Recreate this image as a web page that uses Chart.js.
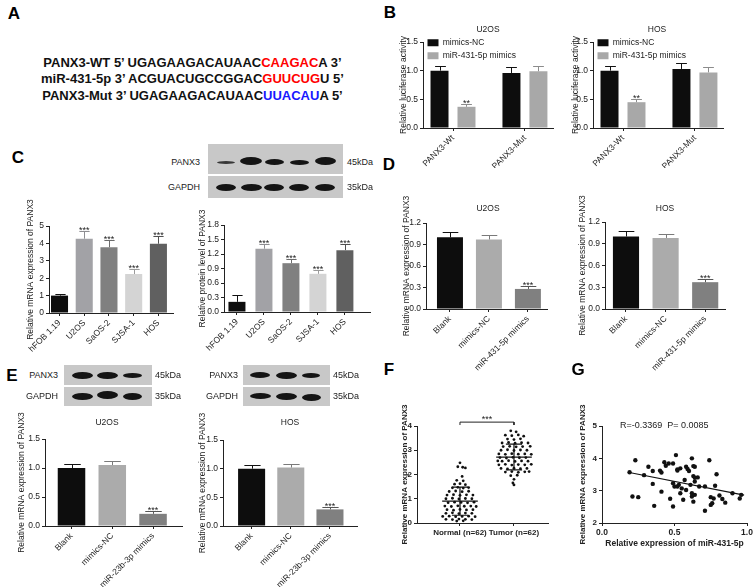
<!DOCTYPE html>
<html>
<head>
<meta charset="utf-8">
<title>PANX3 / miR-431-5p</title>
<script src="https://cdn.jsdelivr.net/npm/chart.js@4.4.1/dist/chart.umd.min.js"></script>
<style>
  body { margin: 0; background: #fff; }
  #page { position: relative; width: 753px; height: 587px; overflow: hidden; font-family: "Liberation Sans", Arial, sans-serif; color: #222; }
  #page canvas { position: absolute; }
  .txt { position: absolute; white-space: pre; line-height: 1; }
  .seq { position: absolute; left: 0; width: 385px; text-align: center; font-size: 13px; font-weight: bold; color: #111; white-space: pre; line-height: 1; }
  .red { color: #f00; }
  .blue { color: #1818ff; }
  .blot { position: absolute; background: #c8c8c8; overflow: hidden; }
  .band { position: absolute; background: #141414; border-radius: 50%; filter: blur(0.7px); }
</style>
</head>
<body>
<div id="page">
  <div class="seq" style="top:56px">PANX3-WT 5’ UGAGAAGACAUAAC<span class="red">CAAGAC</span>A 3’</div>
  <div class="seq" style="top:72px">miR-431-5p 3’ ACGUACUGCCGGAC<span class="red">GUUCUG</span>U 5’</div>
  <div class="seq" style="top:89px">PANX3-Mut 3’ UGAGAAGACAUAAC<span class="blue">UUACAU</span>A 5’</div>
</div>
<script>
// B: luciferase reporter
const lucCats = ['PANX3-Wt', 'PANX3-Mut'];
const lucTicks = [0, 0.5, 1.0, 1.5];
const u2osLucNC = [1.0, 0.96];
const u2osLucNCErr = [0.09, 0.10];
const u2osLucMim = [0.37, 0.99];
const u2osLucMimErr = [0.05, 0.09];
const hosLucNC = [1.0, 1.03];
const hosLucNCErr = [0.09, 0.10];
const hosLucMim = [0.45, 0.97];
const hosLucMimErr = [0.06, 0.10];
const lucStars = ['**', ''];

// C: cell lines
const cellLines = ['hFOB 1.19', 'U2OS', 'SaOS-2', 'SJSA-1', 'HOS'];
const cellMrna = [1.0, 4.27, 3.78, 2.24, 3.98];
const cellMrnaErr = [0.1, 0.42, 0.42, 0.28, 0.42];
const cellProt = [0.21, 1.31, 1.01, 0.79, 1.28];
const cellProtErr = [0.14, 0.09, 0.09, 0.07, 0.12];
const cellStars = ['', '***', '***', '***', '***'];
const mrnaTicks = [0, 1, 2, 3, 4, 5];
const protTicks = [0, 0.3, 0.6, 0.9, 1.2, 1.5, 1.8];

// D: miR-431-5p mimics
const dCats = ['Blank', 'mimics-NC', 'miR-431-5p mimics'];
const dU2os = [1.0, 0.97, 0.28];
const dU2osErr = [0.07, 0.065, 0.035];
const dHos = [1.0, 0.98, 0.37];
const dHosErr = [0.07, 0.06, 0.04];
const dTicks = [0, 0.3, 0.6, 0.9, 1.2];

// E: miR-23b-3p mimics
const eCats = ['Blank', 'mimics-NC', 'miR-23b-3p mimics'];
const eU2os = [1.0, 1.05, 0.21];
const eU2osErr = [0.07, 0.07, 0.05];
const eHos = [1.0, 1.02, 0.29];
const eHosErr = [0.07, 0.07, 0.04];
const eTicks = [0, 0.5, 1.0, 1.5];
const threeStars = ['', '', '***'];

// F: tissue samples (value, horizontal spread)
const fCats = ['Normal (n=62)', 'Tumor (n=62)'];
const fTicks = [0, 1, 2, 3, 4];
const normalY = [2.48, 2.32, 2.30, 2.27, 1.92, 1.76, 1.74, 1.60, 1.62, 1.58, 1.45, 1.47, 1.44, 1.46,
  1.30, 1.32, 1.29, 1.31, 1.15, 1.17, 1.14, 1.16, 1.15, 1.00, 1.02, 0.99, 1.01, 1.00,
  0.84, 0.86, 0.85, 0.83, 0.86, 0.70, 0.68, 0.71, 0.69, 0.70, 0.68, 0.55, 0.53, 0.56, 0.54, 0.55,
  0.40, 0.42, 0.39, 0.41, 0.40, 0.27, 0.28, 0.26, 0.27, 0.28, 0.26, 0.15, 0.14, 0.16, 0.15, 0.14, 0.08, 0.09];
const normalX = [0, -0.04, 0.05, 0.1, 0.04, -0.06, 0.06, -0.1, 0, 0.1, -0.14, -0.04, 0.06, 0.16,
  -0.2, -0.08, 0.04, 0.16, -0.24, -0.12, 0, 0.12, 0.24, -0.26, -0.14, -0.02, 0.1, 0.22,
  -0.22, -0.1, 0.02, 0.14, 0.26, -0.28, -0.16, -0.04, 0.08, 0.2, 0.3, -0.24, -0.12, 0, 0.12, 0.24,
  -0.26, -0.14, -0.02, 0.1, 0.22, -0.32, -0.2, -0.08, 0.04, 0.16, 0.28, -0.26, -0.14, -0.02, 0.1, 0.22, -0.06, 0.06];
const tumorY = [3.80, 3.76, 3.62, 3.60, 3.63, 3.58, 3.46, 3.44, 3.47, 3.30, 3.32, 3.29, 3.31, 3.30,
  3.15, 3.16, 3.14, 3.15, 3.16, 3.00, 3.02, 2.99, 3.01, 3.00, 2.85, 2.83, 2.86, 2.84, 2.85, 2.83,
  2.70, 2.68, 2.71, 2.69, 2.70, 2.55, 2.57, 2.54, 2.56, 2.55, 2.56, 2.40, 2.42, 2.39, 2.41, 2.40, 2.42,
  2.25, 2.23, 2.26, 2.24, 2.25, 2.10, 2.12, 2.09, 2.11, 2.12, 1.95, 1.97, 1.80, 1.65, 1.57];
const tumorX = [-0.06, 0.04, -0.16, -0.04, 0.08, 0.18, -0.12, 0, 0.12, -0.22, -0.1, 0.02, 0.14, 0.26,
  -0.2, -0.08, 0.04, 0.16, 0.3, -0.24, -0.12, 0, 0.12, 0.24, -0.28, -0.16, -0.04, 0.08, 0.2, 0.32,
  -0.26, -0.14, -0.02, 0.1, 0.22, -0.22, -0.1, 0.02, 0.14, 0.26, -0.3, -0.28, -0.16, -0.04, 0.08, 0.2, 0.32,
  -0.24, -0.12, 0, 0.12, 0.24, -0.16, -0.04, 0.08, 0.2, 0.28, -0.06, 0.06, 0, -0.02, 0];
const normalStats = [0.9, 0.58];   // mean, sd
const tumorStats = [2.72, 0.53];

// G: correlation
const gMir = [0.19, 0.23, 0.21, 0.25, 0.29, 0.32, 0.35, 0.35, 0.36, 0.40, 0.41, 0.41, 0.43, 0.44, 0.46, 0.49,
  0.47, 0.49, 0.49, 0.50, 0.51, 0.52, 0.52, 0.52, 0.53, 0.54, 0.54, 0.55, 0.56, 0.57, 0.58, 0.58,
  0.59, 0.60, 0.61, 0.62, 0.62, 0.62, 0.63, 0.63, 0.63, 0.64, 0.64, 0.64, 0.64, 0.66, 0.67, 0.71,
  0.71, 0.74, 0.75, 0.75, 0.76, 0.77, 0.78, 0.79, 0.81, 0.83, 0.85, 0.90, 0.95, 0.96];
const gPanx = [3.57, 3.94, 2.82, 2.80, 3.48, 3.74, 3.61, 3.21, 2.53, 3.62, 3.56, 2.97, 3.88, 3.77, 3.84, 3.84,
  2.75, 3.23, 2.51, 3.13, 4.10, 3.62, 3.66, 3.13, 3.18, 3.69, 2.92, 3.07, 2.72, 3.33, 3.02, 3.74,
  3.67, 3.61, 3.18, 4.00, 2.92, 2.82, 3.45, 3.76, 2.66, 2.87, 3.28, 3.74, 3.40, 3.41, 3.13, 2.38,
  3.13, 3.94, 2.80, 2.56, 2.61, 2.76, 3.15, 3.51, 2.85, 2.74, 2.63, 2.92, 2.76, 2.87];
const gFitX = [0.18, 0.98];
const gFitY = [3.57, 2.86];
const gXTicks = [0, 0.5, 1.0];
const gYTicks = [2, 3, 4, 5];

const page = document.getElementById('page');
const ink = '#222';
Chart.defaults.font.family = '"Liberation Sans", Arial, sans-serif';
Chart.defaults.font.size = 8.5;
Chart.defaults.color = ink;

function txt(s, x, y, align, style) {
  const d = document.createElement('div');
  d.className = 'txt';
  d.textContent = s;
  const tx = align === 'l' ? '0' : align === 'r' ? '-100%' : '-50%';
  d.style.cssText = 'left:' + x + 'px;top:' + y + 'px;transform:translate(' + tx + ',-50%);' + (style || '');
  page.appendChild(d);
}

function blot(x, y, w, h, bands) {
  const d = document.createElement('div');
  d.className = 'blot';
  d.style.cssText = 'left:' + x + 'px;top:' + y + 'px;width:' + w + 'px;height:' + h + 'px';
  bands.forEach(([cx, cy, bw, bh, op]) => {
    const b = document.createElement('div');
    b.className = 'band';
    b.style.cssText = 'left:' + (cx - x - bw / 2) + 'px;top:' + (cy - y - bh / 2) + 'px;width:' + bw + 'px;height:' + bh + 'px;opacity:' + (op || 1);
    d.appendChild(b);
  });
  page.appendChild(d);
}

function makeCanvas(box, pad) {
  const [l, t, r, b] = box;
  const cv = document.createElement('canvas');
  const w = r - l + pad.W + pad.R, h = b - t + pad.T + pad.H;
  cv.width = w;
  cv.height = h;
  cv.style.left = (l - pad.W) + 'px';
  cv.style.top = (t - pad.T) + 'px';
  cv.style.width = w + 'px';
  cv.style.height = h + 'px';
  page.appendChild(cv);
  return cv;
}

function yAxis(ticks, dec, title, W, font, titleFont) {
  return {
    min: ticks[0], max: ticks[ticks.length - 1],
    afterBuildTicks: s => { s.ticks = ticks.map(v => ({ value: v })); },
    afterFit: s => { s.width = W; s.paddingTop = 0; s.paddingBottom = 0; },
    ticks: { callback: v => v.toFixed(dec), padding: 2, font: font, color: ink },
    grid: { drawOnChartArea: false, tickLength: 3, color: ink },
    border: { color: ink },
    title: { display: true, text: title, padding: 0, font: titleFont, color: ink }
  };
}

function xAxis(min, max, values, fmt, H, rot, font, title) {
  return {
    type: 'linear', min: min, max: max, offset: false,
    afterBuildTicks: s => { s.ticks = values.map(v => ({ value: v })); },
    afterFit: s => { s.height = H; s.paddingLeft = 0; s.paddingRight = 0; },
    ticks: { callback: fmt, autoSkip: false, minRotation: rot, maxRotation: rot, padding: 2, font: font, color: ink },
    grid: { offset: false, drawOnChartArea: false, tickLength: 3, color: ink },
    border: { color: ink },
    title: title ? { display: true, text: title, padding: 0, font: { size: 8.5, weight: 'bold' }, color: ink } : { display: false }
  };
}

// error bars (upper whisker only) + significance stars
const errPlugin = {
  id: 'errs',
  afterDatasetsDraw(chart) {
    const ctx = chart.ctx, ys = chart.scales.y;
    chart.data.datasets.forEach((ds, di) => {
      if (!ds.errors) return;
      chart.getDatasetMeta(di).data.forEach((bar, i) => {
        const top = Math.round(ys.getPixelForValue(ds.data[i].y + ds.errors[i])) + 0.5;
        const x = Math.round(bar.x) + 0.5;
        const cap = bar.width * 0.3;
        ctx.save();
        ctx.strokeStyle = Array.isArray(ds.errColor) ? ds.errColor[i] : ds.errColor;
        ctx.lineWidth = 1;
        ctx.beginPath();
        ctx.moveTo(x, bar.y);
        ctx.lineTo(x, top);
        ctx.moveTo(x - cap, top);
        ctx.lineTo(x + cap, top);
        ctx.stroke();
        if (ds.stars && ds.stars[i]) {
          ctx.fillStyle = ink;
          ctx.font = '9px "Liberation Sans", Arial, sans-serif';
          ctx.textAlign = 'center';
          ctx.textBaseline = 'alphabetic';
          ctx.fillText(ds.stars[i], bar.x, top + 1);
        }
        ctx.restore();
      });
    });
  }
};

const legendShift = {
  id: 'legendShift',
  afterLayout(c) {
    if (c.options.plugins.legend.display) c.legend.top += 6;
  }
};

function barChart(box, pad, cats, sets, o) {
  const cv = makeCanvas(box, pad);
  return new Chart(cv, {
    type: 'bar',
    data: {
      datasets: sets.map(s => ({
        label: s.label,
        data: s.values.map((v, i) => ({ x: i + 1, y: v })),
        backgroundColor: s.color,
        borderWidth: 0,
        categoryPercentage: o.cp,
        barPercentage: o.bp,
        errors: s.errors,
        errColor: s.errColor,
        stars: s.stars
      }))
    },
    options: {
      responsive: false, animation: false, devicePixelRatio: 1, events: [],
      layout: { padding: { left: 0, top: pad.T, right: pad.R, bottom: 0 }, autoPadding: false },
      plugins: {
        tooltip: { enabled: false },
        legend: o.legend ? {
          display: true, position: 'chartArea', align: 'start',
          labels: { boxWidth: 11, boxHeight: 7, padding: 4.5, font: { size: 8.5 }, color: ink }
        } : { display: false }
      },
      scales: {
        x: xAxis(o.xMin, o.xMax, cats.map((c, i) => i + 1), v => cats[Math.round(v) - 1], pad.H, 45, { size: 8.5 }),
        y: yAxis(o.ticks, o.dec, o.yTitle, pad.W, { size: 8.5 }, { size: 8.5 })
      }
    },
    plugins: [errPlugin, legendShift]
  });
}

// ---- B ----
const lucOpt = { xMin: 0.583, xMax: 2.39, cp: 0.75, bp: 0.667, ticks: lucTicks, dec: 1, yTitle: 'Relative luciferase activity', legend: true };
barChart([423, 42, 553, 128], { W: 24, T: 14, H: 40, R: 2 }, lucCats, [
  { label: 'mimics-NC', values: u2osLucNC, errors: u2osLucNCErr, color: '#0d0d0d', errColor: '#111' },
  { label: 'miR-431-5p mimics', values: u2osLucMim, errors: u2osLucMimErr, color: '#a8a8a8', errColor: '#8c8c8c', stars: lucStars }
], lucOpt);
barChart([593, 42, 723, 128], { W: 22, T: 14, H: 40, R: 2 }, lucCats, [
  { label: 'mimics-NC', values: hosLucNC, errors: hosLucNCErr, color: '#0d0d0d', errColor: '#111' },
  { label: 'miR-431-5p mimics', values: hosLucMim, errors: hosLucMimErr, color: '#a8a8a8', errColor: '#8c8c8c', stars: lucStars }
], lucOpt);

// ---- C ----
const cellColors = ['#0d0d0d', '#a2a2a6', '#808080', '#d4d4d4', '#606060'];
const cellErrColors = ['#111', '#8e8e92', '#6c6c6c', '#9a9a9a', '#505050'];
barChart([49, 226, 173, 313], { W: 23, T: 32, H: 42, R: 2 }, cellLines, [
  { values: cellMrna, errors: cellMrnaErr, color: cellColors, errColor: cellErrColors, stars: cellStars }
], { xMin: 0.575, xMax: 5.59, cp: 1, bp: 0.69, ticks: mrnaTicks, dec: 0, yTitle: 'Relative mRNA expression of PANX3' });
barChart([224, 225, 370, 312], { W: 26, T: 22, H: 42, R: 2 }, cellLines, [
  { values: cellProt, errors: cellProtErr, color: cellColors, errColor: cellErrColors, stars: cellStars }
], { xMin: 0.52, xMax: 5.93, cp: 1, bp: 0.63, ticks: protTicks, dec: 1, yTitle: 'Relative protein level of PANX3' });

// ---- D ----
const triColors = ['#0d0d0d', '#ababab', '#808080'];
const triErr = ['#111', '#7a7a7a', '#555'];
barChart([426, 223, 547, 309], { W: 24, T: 32, H: 64, R: 2 }, dCats, [
  { values: dU2os, errors: dU2osErr, color: triColors, errColor: triErr, stars: threeStars }
], { xMin: 0.385, xMax: 3.49, cp: 1, bp: 0.667, ticks: dTicks, dec: 1, yTitle: 'Relative mRNA expression of PANX3' });
barChart([605, 222, 725, 309], { W: 27, T: 32, H: 64, R: 2 }, dCats, [
  { values: dHos, errors: dHosErr, color: triColors, errColor: triErr, stars: threeStars }
], { xMin: 0.47, xMax: 3.5, cp: 1, bp: 0.66, ticks: dTicks, dec: 1, yTitle: 'Relative mRNA expression of PANX3' });

// ---- E ----
barChart([45, 439, 182, 526], { W: 28, T: 32, H: 64, R: 2 }, eCats, [
  { values: eU2os, errors: eU2osErr, color: triColors, errColor: triErr, stars: threeStars }
], { xMin: 0.35, xMax: 3.71, cp: 1, bp: 0.675, ticks: eTicks, dec: 1, yTitle: 'Relative mRNA expression of PANX3' });
barChart([223, 440, 357, 526], { W: 25, T: 32, H: 64, R: 2 }, eCats, [
  { values: eHos, errors: eHosErr, color: triColors, errColor: triErr, stars: threeStars }
], { xMin: 0.27, xMax: 3.69, cp: 1, bp: 0.69, ticks: eTicks, dec: 1, yTitle: 'Relative mRNA expression of PANX3' });

// ---- F ----
function statLine(cx, st) {
  const [m, sd] = st;
  return {
    type: 'line', borderColor: '#111', borderWidth: 1.2, pointRadius: 0, spanGaps: false,
    data: [
      { x: cx - 0.33, y: m }, { x: cx + 0.33, y: m }, { x: cx, y: null },
      { x: cx, y: m - sd }, { x: cx, y: m + sd }, { x: cx, y: null },
      { x: cx - 0.15, y: m + sd }, { x: cx + 0.15, y: m + sd }, { x: cx, y: null },
      { x: cx - 0.15, y: m - sd }, { x: cx + 0.15, y: m - sd }
    ]
  };
}
const sigPlugin = {
  id: 'sig',
  afterDatasetsDraw(c) {
    const ctx = c.ctx;
    const x = c.scales.x.getPixelForValue(1.5), y = c.scales.y.getPixelForValue(4.16);
    ctx.save();
    ctx.fillStyle = ink;
    ctx.font = '9px "Liberation Sans", Arial, sans-serif';
    ctx.textAlign = 'center';
    ctx.fillText('***', x, y);
    ctx.restore();
  }
};
new Chart(makeCanvas([417, 426, 548, 523], { W: 17, T: 26, H: 24, R: 4 }), {
  type: 'scatter',
  data: {
    datasets: [
      { data: normalY.map((y, i) => ({ x: 1 + normalX[i], y: y })), pointRadius: 1.4, backgroundColor: '#111', borderWidth: 0 },
      { data: tumorY.map((y, i) => ({ x: 2 + tumorX[i], y: y })), pointRadius: 1.4, backgroundColor: '#111', borderWidth: 0 },
      statLine(1, normalStats),
      statLine(2, tumorStats),
      { type: 'line', data: [{ x: 1, y: 4.04 }, { x: 1, y: 4.16 }, { x: 2, y: 4.16 }, { x: 2, y: 4.04 }],
        borderColor: ink, borderWidth: 1, pointRadius: 0, clip: false }
    ]
  },
  options: {
    responsive: false, animation: false, devicePixelRatio: 1, events: [],
    layout: { padding: { left: 0, top: 26, right: 4, bottom: 0 }, autoPadding: false },
    plugins: { legend: { display: false }, tooltip: { enabled: false } },
    scales: {
      x: xAxis(0.204, 2.63, [1, 2], v => fCats[Math.round(v) - 1], 24, 0, { size: 8, weight: 'bold' }),
      y: yAxis(fTicks, 0, 'Relative mRNA expression of PANX3', 17, { size: 8, weight: 'bold' }, { size: 8, weight: 'bold' })
    }
  },
  plugins: [sigPlugin]
});

// ---- G ----
new Chart(makeCanvas([602, 426, 747, 523], { W: 24, T: 26, H: 26, R: 8 }), {
  type: 'scatter',
  data: {
    datasets: [
      { data: gMir.map((x, i) => ({ x: x, y: gPanx[i] })), pointRadius: 2.2, backgroundColor: '#111', borderWidth: 0 },
      { type: 'line', data: gFitX.map((x, i) => ({ x: x, y: gFitY[i] })), borderColor: '#111', borderWidth: 1.2, pointRadius: 0 }
    ]
  },
  options: {
    responsive: false, animation: false, devicePixelRatio: 1, events: [],
    layout: { padding: { left: 0, top: 26, right: 8, bottom: 0 }, autoPadding: false },
    plugins: { legend: { display: false }, tooltip: { enabled: false } },
    scales: {
      x: xAxis(0, 1, gXTicks, v => v.toFixed(1), 26, 0, { size: 8.5, weight: 'bold' }, 'Relative expression of miR-431-5p'),
      y: yAxis(gYTicks, 0, 'Relative mRNA expression of PANX3', 24, { size: 8, weight: 'bold' }, { size: 8, weight: 'bold' })
    }
  }
});

// ---- blots ----
blot(208, 144, 135, 30, [[226, 162, 18, 3, 0.8], [251, 161, 22, 8], [274, 162, 19, 6], [299, 162, 19, 5], [325, 161, 21, 8]]);
blot(208, 176, 135, 22, [[226, 187, 20, 7], [251, 187, 21, 7], [274, 187, 20, 7], [299, 187, 20, 7], [325, 187, 20, 7]]);
blot(64, 365, 88, 20, [[82, 375, 21, 7], [107, 375, 21, 7], [132, 375, 19, 5]]);
blot(64, 387, 88, 19, [[82, 396, 21, 7], [107, 395, 21, 8], [132, 396, 19, 7]]);
blot(243, 365, 87, 20, [[260, 375, 20, 6], [286, 375, 21, 7], [311, 375, 18, 5]]);
blot(243, 387, 87, 19, [[260, 396, 21, 6], [286, 396, 21, 7], [311, 397, 19, 7]]);

// ---- text ----
const letter = 'font-size:17px;font-weight:bold;color:#000;';
txt('A', 14, 13, 'c', letter);
txt('B', 390, 12, 'c', letter);
txt('C', 18, 157, 'c', letter);
txt('D', 389, 164, 'c', letter);
txt('E', 12, 375, 'c', letter);
txt('F', 389, 369, 'c', letter);
txt('G', 578, 369, 'c', letter);

const small = 'font-size:8.5px;';
txt('U2OS', 488, 29, 'c', small);
txt('HOS', 657, 29, 'c', small);
txt('U2OS', 488, 208, 'c', small);
txt('HOS', 665, 208, 'c', small);
txt('U2OS', 107, 422, 'c', small);
txt('HOS', 290, 422, 'c', small);

const blotFont = 'font-size:9px;';
txt('PANX3', 200, 162, 'r', blotFont);
txt('GAPDH', 200, 187, 'r', blotFont);
txt('45kDa', 347, 162, 'l', blotFont);
txt('35kDa', 347, 187, 'l', blotFont);
txt('PANX3', 58, 375, 'r', blotFont);
txt('GAPDH', 58, 396, 'r', blotFont);
txt('45kDa', 155, 375, 'l', blotFont);
txt('35kDa', 155, 396, 'l', blotFont);
txt('PANX3', 238, 375, 'r', blotFont);
txt('GAPDH', 238, 396, 'r', blotFont);
txt('45kDa', 333, 375, 'l', blotFont);
txt('35kDa', 333, 396, 'l', blotFont);

txt('R=-0.3369  P= 0.0085', 620, 425, 'l', 'font-size:9px;');
</script>
</body>
</html>
